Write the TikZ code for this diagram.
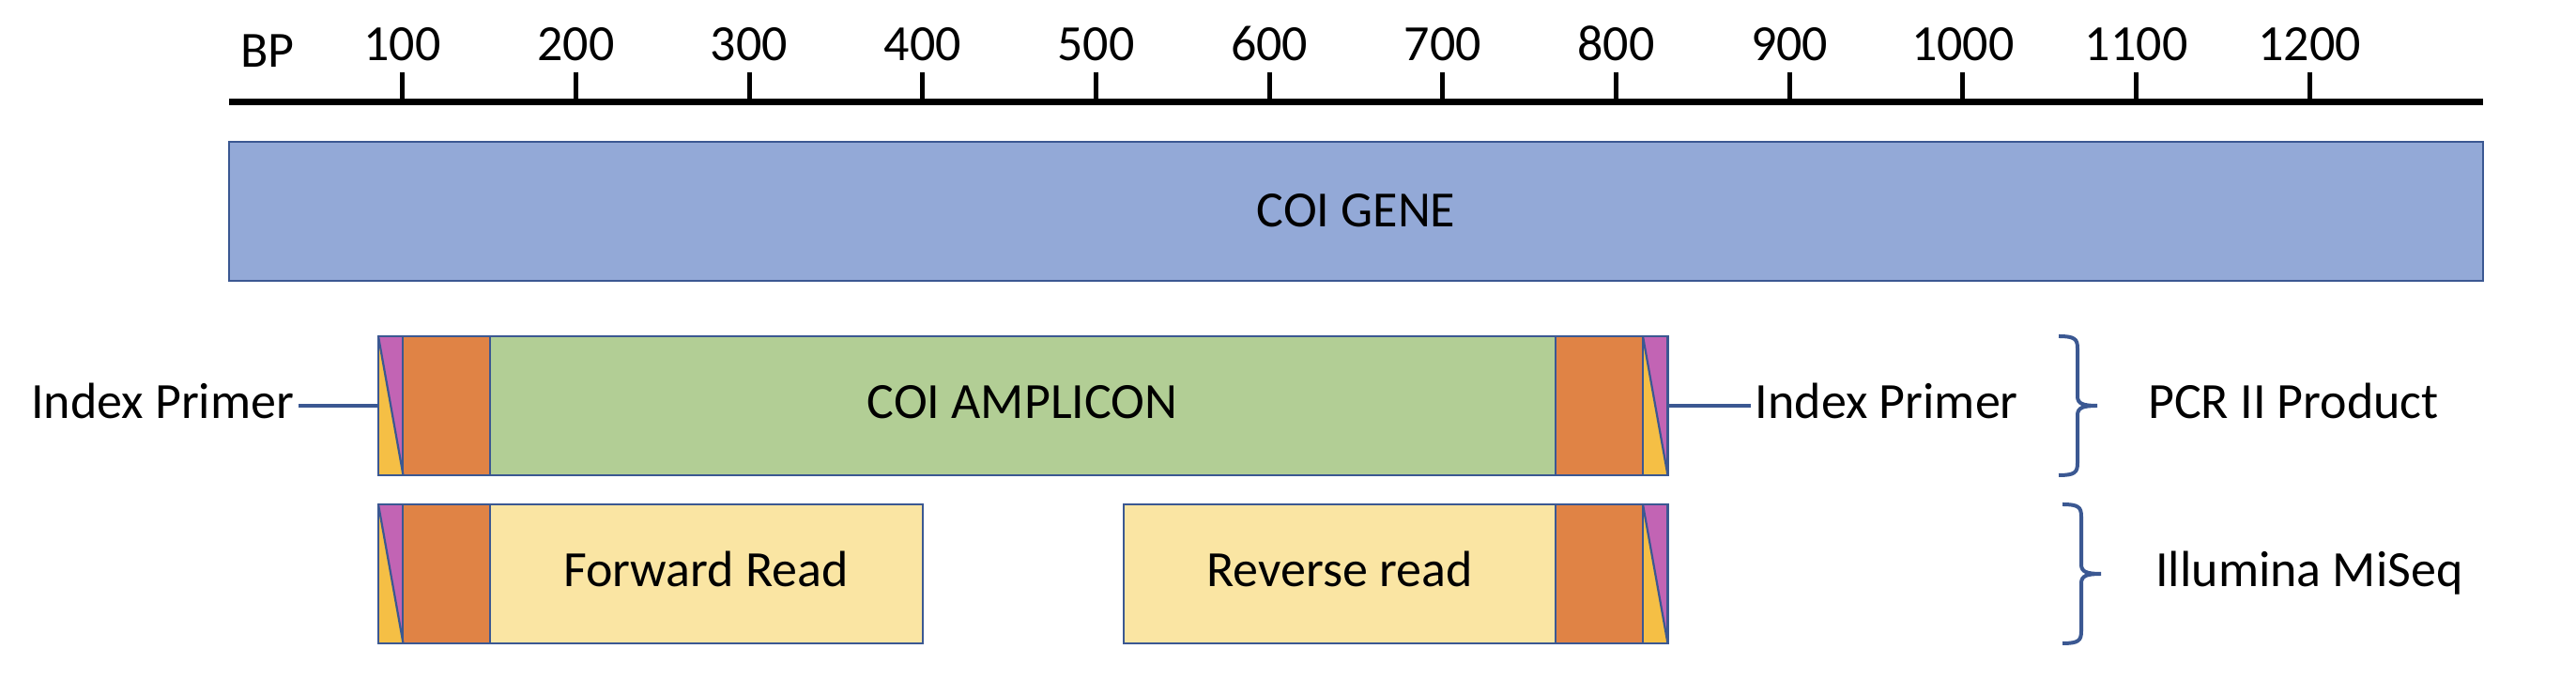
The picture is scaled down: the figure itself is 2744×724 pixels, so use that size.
\documentclass[tikz,border=0pt]{standalone}
\usepackage{fontspec}
\setmainfont{Carlito}
\definecolor{genefill}{HTML}{93A9D7}
\definecolor{edge}{HTML}{3B5892}
\definecolor{ampfill}{HTML}{B2CE95}
\definecolor{adapter}{HTML}{E08345}
\definecolor{readfill}{HTML}{FAE5A3}
\definecolor{tagpurple}{HTML}{C264B4}
\definecolor{taggold}{HTML}{F5BF45}
\tikzset{
  seg/.style={draw=edge, line width=0.7pt},
  divider/.style={draw=edge, line width=0.55pt},
  lbl/.style={font=\fontsize{13.5}{16}\selectfont, inner sep=1pt, text height=10pt, text depth=3pt},
  link/.style={draw=edge, line width=1pt},
  brc/.style={draw=edge, line width=1pt},
}
\begin{document}
\begin{tikzpicture}[x=0.25pt, y=-0.25pt]
\useasboundingbox (0,0) rectangle (2744,724);
% scale bar
\draw[line width=1.75pt] (244,108.5) -- (2645,108.5);
\foreach \n in {1,...,12}{
  \pgfmathsetmacro{\tx}{428.6+(\n-1)*184.7}
  \draw[line width=1.25pt] (\tx,77) -- (\tx,108.5);
  \node[lbl] (t\n) at (\tx,51) {\n00};
}
\node[lbl] (bp) at (285,58) {BP};
% gene
\draw[seg, fill=genefill] (244,151) rectangle (2645,299);
\node[lbl] (gene) at (1444.5,228) {COI GENE};
% PCR II product
\fill[adapter] (429,358) rectangle (522,506);
\fill[ampfill] (522,358) rectangle (1657,506);
\fill[adapter] (1657,358) rectangle (1750,506);
% reads
\fill[adapter] (429,537) rectangle (522,685);
\fill[readfill] (522,537) rectangle (983,685);
\fill[readfill] (1197,537) rectangle (1657,685);
\fill[adapter] (1657,537) rectangle (1750,685);
% index tags
\foreach \xa/\ya in {403/358, 1750/358, 403/537, 1750/537}{
  \fill[tagpurple] (\xa,\ya) -- ++(26.5,0) -- ++(0,148) -- cycle;
  \fill[taggold] (\xa,\ya) -- ++(0,148) -- ++(26.5,0) -- cycle;
  \draw[divider] (\xa,\ya) -- ++(26.5,148);
}
\foreach \xd in {429,522,1657,1750}
  \draw[divider] (\xd,358) -- (\xd,506);
\foreach \xd in {429,522,1657,1750}
  \draw[divider] (\xd,537) -- (\xd,685);
\draw[seg] (403,358) rectangle (1776.5,506);
\draw[seg] (403,537) rectangle (983,685);
\draw[seg] (1197,537) rectangle (1776.5,685);
\node[lbl] (amp) at (1089,432) {COI AMPLICON};
\node[lbl] (fwd) at (752,611) {Forward Read};
\node[lbl] (rev) at (1427,611) {Reverse read};
% primers
\coordinate (pcrL) at (403,432);
\coordinate (pcrR) at (1776.5,432);
\node[lbl, anchor=east] (ipL) at (318,432) {Index Primer};
\node[lbl, anchor=west] (ipR) at (1865,432) {Index Primer};
\draw[link] (ipL) -- (pcrL);
\draw[link] (pcrR) -- (ipR);
% braces
\foreach \bx/\ya/\ym/\yb in {2193/358/432/506, 2197/537/611/685}
  \draw[brc] (\bx,\ya) .. controls (\bx+17,\ya) and (\bx+20,\ya+3) .. (\bx+20,\ya+13)
    -- (\bx+20,\ym-10) .. controls (\bx+20,\ym-2) and (\bx+26,\ym) .. (\bx+41,\ym)
    .. controls (\bx+26,\ym) and (\bx+20,\ym+2) .. (\bx+20,\ym+10)
    -- (\bx+20,\yb-13) .. controls (\bx+20,\yb-3) and (\bx+17,\yb) .. (\bx,\yb);
\node[lbl] (pcr) at (2443,432) {PCR II Product};
\node[lbl] (miseq) at (2460,611) {Illumina MiSeq};
\end{tikzpicture}
\end{document}
